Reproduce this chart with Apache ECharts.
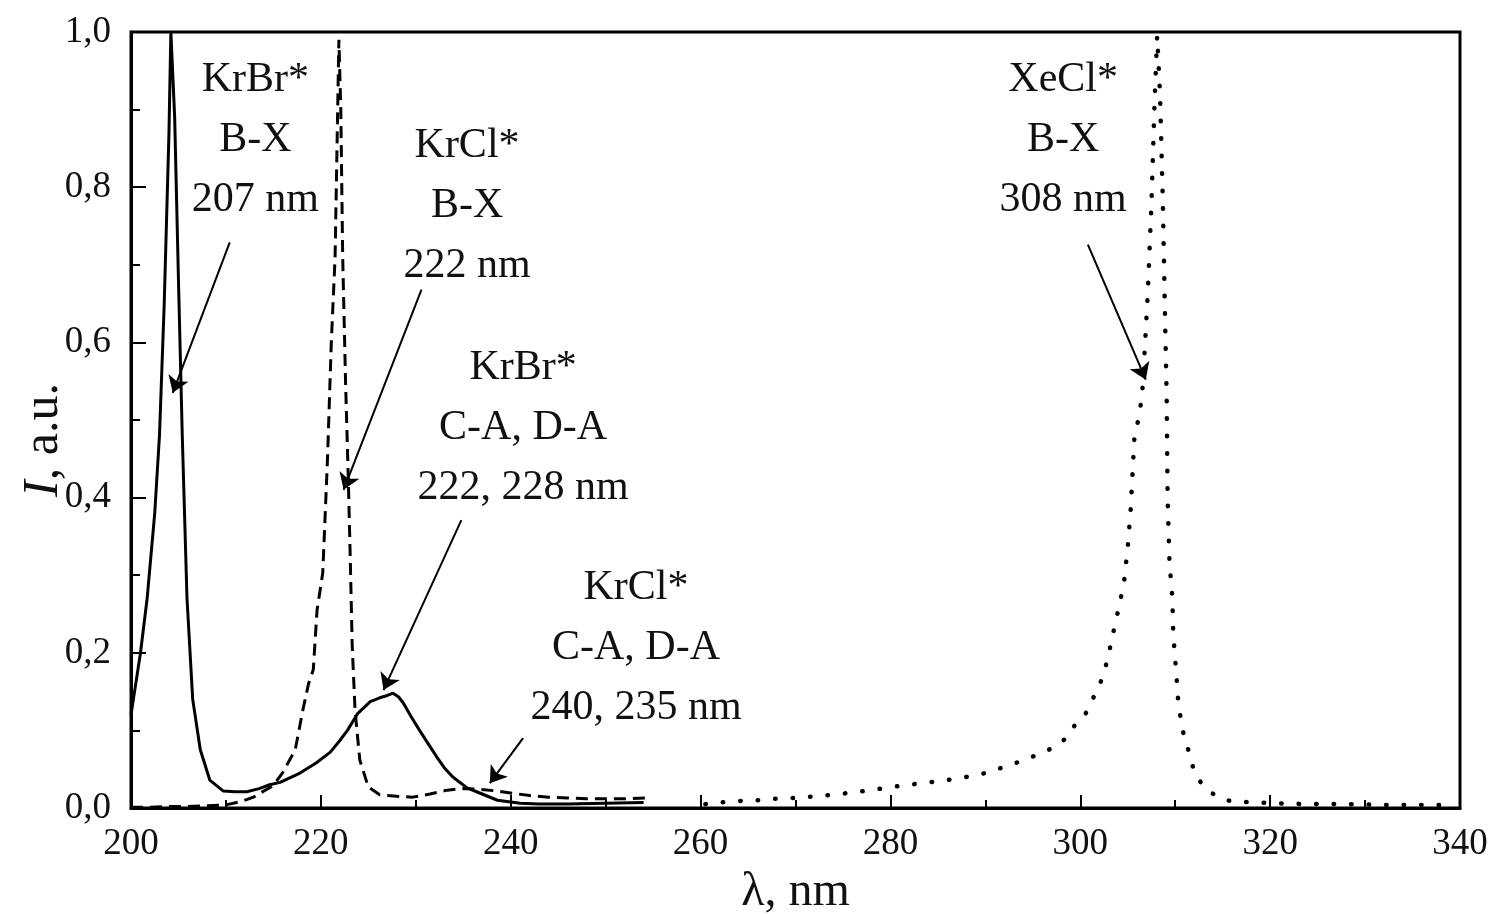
<!DOCTYPE html>
<html>
<head>
<meta charset="utf-8">
<script src="https://cdn.jsdelivr.net/npm/echarts@6/dist/echarts.min.js"></script>
<style>
  html, body { margin: 0; padding: 0; background: #fff; }
  #chart { width: 1492px; height: 914px; }
</style>
</head>
<body>
<div id="chart"></div>
<script>
// KrBr* (solid)
const krbrX = [200, 201, 201.7, 202.5, 203, 203.5, 204, 204.2, 204.6, 205, 205.4, 205.9, 206.5, 207.3, 208.3, 209.7, 211, 212.2, 213.5, 214.6, 215.7, 217.8, 219.5, 221, 222, 222.8, 223.9, 225.2, 226.2, 227, 227.6, 228.2, 228.7, 229.5, 230.4, 231.3, 232.2, 233, 233.9, 235.4, 236.8, 238.6, 241, 243, 246, 250, 254]
const krbrY = [0.12, 0.2, 0.27, 0.38, 0.48, 0.65, 0.87, 1.0, 0.89, 0.68, 0.48, 0.27, 0.14, 0.075, 0.036, 0.022, 0.021, 0.021, 0.025, 0.03, 0.033, 0.045, 0.058, 0.072, 0.087, 0.1, 0.122, 0.137, 0.142, 0.145, 0.148, 0.143, 0.135, 0.118, 0.1, 0.083, 0.066, 0.052, 0.04, 0.026, 0.019, 0.01, 0.006, 0.005, 0.005, 0.006, 0.007]

// KrCl* (dashed)
const krclX = [200, 202, 204, 206, 208, 210, 211.5, 212.9, 214, 215, 216, 217.3, 218.1, 218.7, 219.2, 219.6, 220.2, 220.7, 221.1, 221.5, 221.7, 221.9, 222.1, 222.3, 222.6, 222.9, 223.1, 223.3, 223.6, 224.1, 225, 226.2, 228, 229.7, 231.5, 233.3, 235, 236.8, 238.5, 240.2, 242, 244, 246, 248, 250, 252, 254.7]
const krclY = [0.001, 0.001, 0.002, 0.002, 0.003, 0.004, 0.008, 0.014, 0.022, 0.029, 0.046, 0.075, 0.126, 0.16, 0.178, 0.255, 0.303, 0.45, 0.6, 0.71, 0.85, 0.99, 0.9, 0.71, 0.55, 0.42, 0.32, 0.21, 0.126, 0.062, 0.027, 0.017, 0.015, 0.014, 0.018, 0.023, 0.025, 0.024, 0.022, 0.019, 0.016, 0.014, 0.013, 0.012, 0.012, 0.012, 0.013]

// XeCl* (dotted)
const xeclX = [260.5, 262, 264, 266, 268, 270, 272, 274, 276, 278, 280, 282, 284, 286, 288, 290, 291.5, 293, 294.5, 296, 297.5, 298.5, 299.5, 300.5, 301.2, 301.8, 302.4, 302.9, 303.4, 304, 304.6, 305, 305.3, 305.5, 305.7, 306.1, 306.5, 306.7, 306.9, 307.1, 307.3, 307.5, 307.8, 308.1, 308.4, 308.7, 308.9, 309.1, 309.2, 309.4, 309.7, 309.8, 310.1, 310.3, 310.7, 311.1, 311.6, 312, 312.8, 313.9, 314.7, 315.8, 316.8, 318.7, 321, 324, 328, 332, 336, 339.5]
const xeclY = [0.005, 0.007, 0.009, 0.01, 0.012, 0.013, 0.015, 0.017, 0.02, 0.023, 0.027, 0.03, 0.033, 0.036, 0.04, 0.045, 0.051, 0.057, 0.064, 0.071, 0.08, 0.09, 0.108, 0.12, 0.138, 0.152, 0.17, 0.193, 0.222, 0.255, 0.29, 0.336, 0.383, 0.43, 0.477, 0.5, 0.53, 0.57, 0.615, 0.66, 0.72, 0.78, 0.9, 0.995, 0.92, 0.78, 0.65, 0.53, 0.4, 0.316, 0.27, 0.223, 0.175, 0.14, 0.104, 0.086, 0.066, 0.046, 0.031, 0.019, 0.013, 0.009, 0.008, 0.007, 0.006, 0.005, 0.005, 0.004, 0.004, 0.004]

// annotation texts, anchored in data coordinates
const noteTexts = [
  'KrBr*\nB-X\n207 nm',
  'KrCl*\nB-X\n222 nm',
  'KrBr*\nC-A, D-A\n222, 228 nm',
  'KrCl*\nC-A, D-A\n240, 235 nm',
  'XeCl*\nB-X\n308 nm'
]
const noteAt = [[213.1, 0.861], [235.4, 0.776], [241.3, 0.49], [253.2, 0.206], [298.2, 0.861]]
const arrowFrom = [[210.4, 0.729], [230.6, 0.668], [234.8, 0.371], [241.3, 0.09], [300.8, 0.726]]
const arrowTo = [[204.4, 0.535], [222.4, 0.41], [226.6, 0.152], [237.8, 0.032], [306.9, 0.552]]

const zip = (xs, ys) => xs.map((x, i) => [x, ys[i]])
const serif = '"Liberation Serif", "DejaVu Serif", serif'

const chart = echarts.init(document.getElementById('chart'))

chart.setOption({
  animation: false,
  backgroundColor: '#fff',
  grid: {
    left: 131,
    top: 32,
    right: 32,
    bottom: 106,
    show: true,
    borderColor: '#000',
    borderWidth: 3,
    outerBoundsMode: 'none'
  },
  xAxis: {
    type: 'value',
    min: 200,
    max: 340,
    interval: 20,
    name: 'λ, nm',
    nameLocation: 'middle',
    nameGap: 56,
    nameTextStyle: { fontFamily: serif, fontSize: 48, color: '#111' },
    axisLine: { lineStyle: { color: '#000', width: 3 } },
    axisTick: { inside: true, length: 13, lineStyle: { color: '#000', width: 2 } },
    minorTick: { show: true, splitNumber: 2, length: 8, lineStyle: { color: '#000', width: 2 } },
    splitLine: { show: false },
    axisLabel: { fontFamily: serif, fontSize: 37, color: '#111', margin: 18 }
  },
  yAxis: {
    type: 'value',
    min: 0,
    max: 1,
    interval: 0.2,
    name: '{i|I}, a.u.',
    nameLocation: 'middle',
    nameGap: 62,
    nameMoveOverlap: false,
    nameTextStyle: {
      fontFamily: serif,
      fontSize: 50,
      color: '#111',
      padding: [0, 40, 0, 0],
      rich: { i: { fontFamily: serif, fontSize: 50, fontStyle: 'italic', color: '#111' } }
    },
    axisLine: { show: true, lineStyle: { color: '#000', width: 3 } },
    axisTick: { inside: true, length: 15, lineStyle: { color: '#000', width: 2 } },
    minorTick: { show: true, splitNumber: 2, length: 9, lineStyle: { color: '#000', width: 2 } },
    splitLine: { show: false },
    axisLabel: {
      fontFamily: serif,
      fontSize: 37,
      color: '#111',
      margin: 20,
      formatter: v => v.toFixed(1).replace('.', ',')
    }
  },
  series: [
    {
      name: 'KrBr*',
      type: 'line',
      data: zip(krbrX, krbrY),
      showSymbol: false,
      lineStyle: { color: '#000', width: 3 },
      markLine: {
        silent: true,
        symbol: ['none', 'arrow'],
        symbolSize: 16,
        label: { show: false },
        lineStyle: { color: '#000', width: 2, type: 'solid' },
        data: arrowFrom.map((p, i) => [{ coord: p }, { coord: arrowTo[i] }])
      }
    },
    {
      name: 'KrCl*',
      type: 'line',
      data: zip(krclX, krclY),
      showSymbol: false,
      lineStyle: { color: '#000', width: 3, type: [12, 7] }
    },
    {
      name: 'XeCl*',
      type: 'line',
      data: zip(xeclX, xeclY),
      showSymbol: false,
      lineStyle: { color: '#000', width: 4.5, type: [0.5, 17], cap: 'round' }
    }
  ]
})

// annotation labels placed through the chart's own scales
chart.setOption({
  graphic: noteTexts.map((t, i) => {
    const [px, py] = chart.convertToPixel({ gridIndex: 0 }, noteAt[i])
    return {
      type: 'text',
      x: px,
      y: py,
      silent: true,
      style: {
        text: t,
        fontFamily: serif,
        fontSize: 42,
        lineHeight: 60,
        fill: '#111',
        align: 'center',
        verticalAlign: 'middle'
      }
    }
  })
})
</script>
</body>
</html>
